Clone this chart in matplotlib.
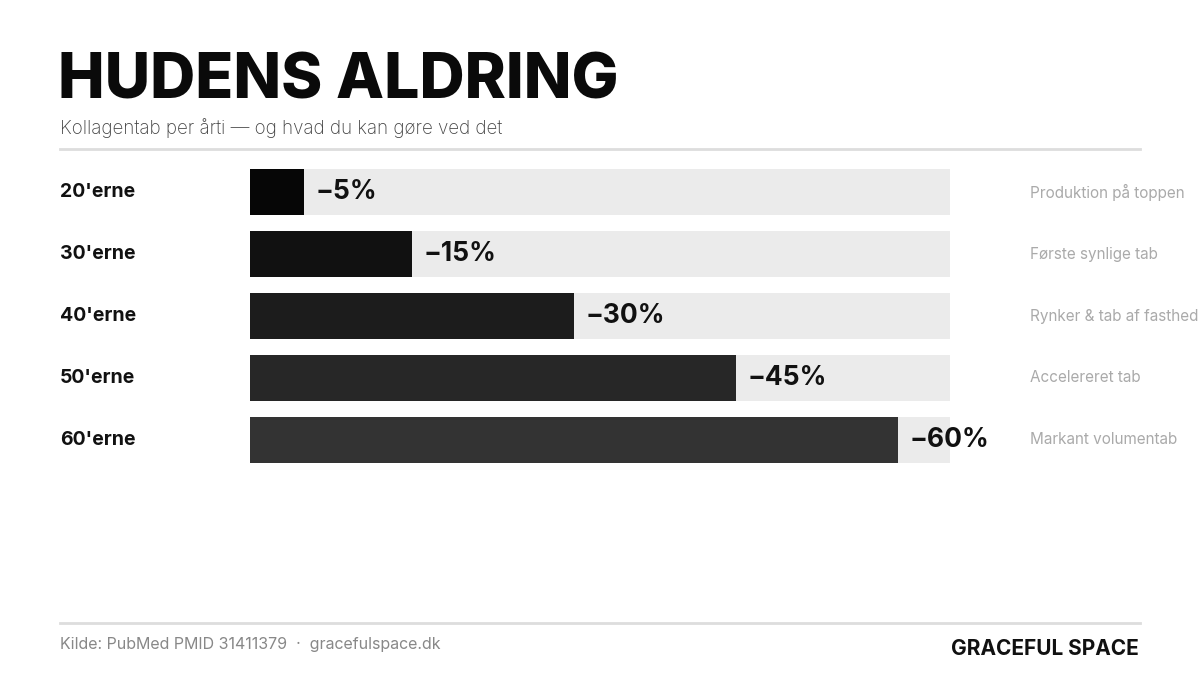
import matplotlib
matplotlib.use("Agg")
import matplotlib.pyplot as plt
from matplotlib.lines import Line2D

categories = ["20'erne", "30'erne", "40'erne", "50'erne", "60'erne"]
values = [5, 15, 30, 45, 60]
notes = ["Produktion på toppen", "Første synlige tab", "Rynker & tab af fasthed",
         "Accelereret tab", "Markant volumentab"]
bar_colors = ["#060606", "#111111", "#1c1c1c", "#272727", "#333333"]
track_max = 64.8

plt.rcParams['font.family'] = ['Inter', 'DejaVu Sans']
fig = plt.figure(figsize=(12, 6.8), dpi=100)
W, H = 1200, 680
def fx(x): return x / W
def fy(y): return 1 - y / H

ax = fig.add_axes([fx(250), fy(471), fx(700), 310 / H])
ax.set_xlim(0, track_max)
ax.set_ylim(4.5, -0.5)
ax.axis('off')
for i, (c, v) in enumerate(zip(categories, values)):
    ax.barh(i, track_max, height=0.726, color="#ebebeb", left=0)
    ax.barh(i, v, height=0.726, color=bar_colors[i])
    ax.text(v + 1.1, i, f"\u2212{v}%", va='center', ha='left', fontsize=19,
            fontweight='bold', color="#111111")
    fig.text(fx(60), fy(192 + 62 * i), c, va='center', ha='left', fontsize=14,
             fontweight='bold', color="#111111")
    fig.text(fx(1030), fy(192 + 62 * i), notes[i], va='center', ha='left',
             fontsize=11, color="#aaaaaa")

fig.text(fx(58), fy(82), "HUDENS ALDRING", va='center', ha='left', fontsize=45,
         fontweight='heavy', color="#0a0a0a")
fig.text(fx(60), fy(128), "Kollagentab per årti — og hvad du kan gøre ved det",
         va='center', ha='left', fontsize=13.5, color="#444444", fontweight='light')
fig.add_artist(Line2D([fx(60), fx(1140)], [fy(149), fy(149)], color="#dddddd", lw=2))
fig.add_artist(Line2D([fx(60), fx(1140)], [fy(623), fy(623)], color="#dddddd", lw=2))
fig.text(fx(60), fy(645), "Kilde: PubMed PMID 31411379  ·  gracefulspace.dk",
         va='center', ha='left', fontsize=11.5, color="#888888")
fig.text(fx(1139), fy(649), "GRACEFUL SPACE", va='center', ha='right', fontsize=15,
         fontweight='bold', color="#111111")

fig.savefig("out.png", dpi=100, facecolor="white")
